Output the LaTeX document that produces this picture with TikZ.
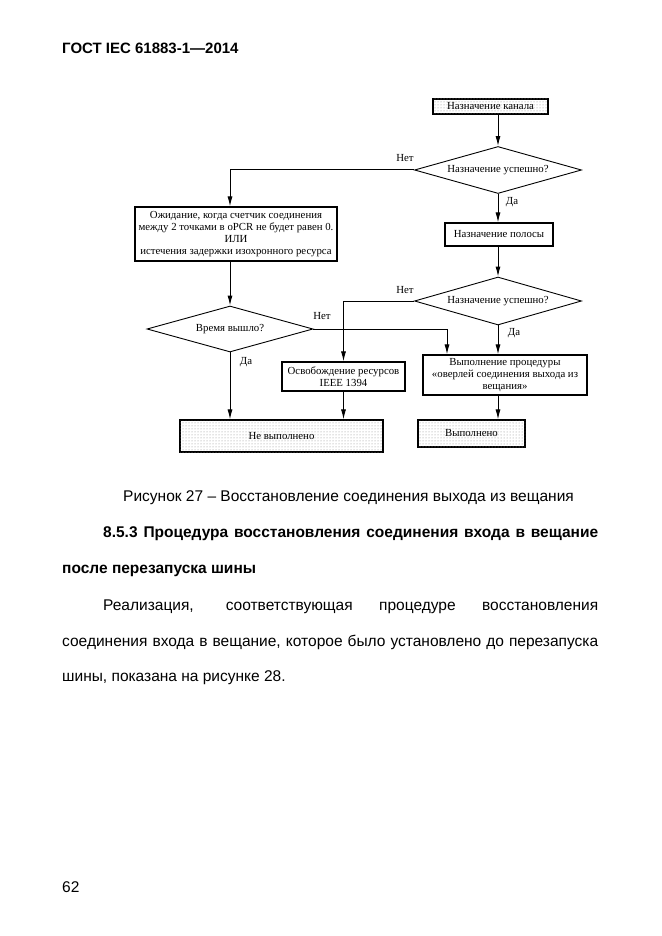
\documentclass[tikz,border=0pt]{standalone}
\usepackage{fontspec}
\setmainfont{Liberation Serif}
\newfontfamily\arialf{Liberation Sans}
\usetikzlibrary{shapes.geometric,patterns,shadows,arrows.meta}
\begin{document}
\begin{tikzpicture}[x=1pt,y=-1pt,
  dfont/.style={font=\fontsize{10.8}{12.2}\selectfont},
  plainbox/.style={draw, line width=1.1pt, rectangle, inner sep=0pt, align=center, dfont},
  termbox/.style={plainbox, fill=white, postaction={pattern=dots, pattern color=black!45},
     drop shadow={shadow xshift=1.4pt, shadow yshift=-1.4pt, opacity=1, fill=black}},
  decision/.style={draw, line width=0.9pt, diamond, aspect=3.5, inner sep=0pt, dfont},
  conn/.style={line width=1pt, -{Latex[length=10pt,width=5pt]}},
  lab/.style={dfont, inner sep=0pt},
  body/.style={font=\arialf\fontsize{15.5}{18}\selectfont, inner sep=0pt, anchor=base west},
  bodyb/.style={font=\arialf\bfseries\fontsize{15.5}{18}\selectfont, inner sep=0pt, anchor=base west}]
\useasboundingbox (0,0) rectangle (661,936);
\fill[white] (0,0) rectangle (661,936);

% header
\node[bodyb, font=\arialf\bfseries\fontsize{15}{18}\selectfont] (hdr) at (62,54) {ГОСТ IEC 61883-1—2014};

% flowchart nodes
\node[termbox, minimum width=115pt, minimum height=15pt] (b1) at (490.5,106.5) {Назначение канала};
\node[decision, minimum width=167pt, minimum height=47pt] (d1) at (498,170) {Назначение успешно?};
\node[plainbox, minimum width=108pt, minimum height=23pt] (b2) at (499,234.5) {Назначение полосы};
\node[decision, minimum width=167pt, minimum height=48pt] (d2) at (498,301) {Назначение успешно?};
\node[plainbox, minimum width=202pt, minimum height=54pt] (bw) at (236,234)
  {Ожидание, когда счетчик соединения\\между 2 точками в oPCR не будет равен 0.\\ИЛИ\\истечения задержки изохронного ресурса};
\node[decision, minimum width=166pt, minimum height=46pt] (d3) at (230,329) {Время вышло?};
\node[plainbox, minimum width=123pt, minimum height=29pt] (bf) at (343.5,376.5) {Освобождение ресурсов\\IEEE 1394};
\node[plainbox, minimum width=164pt, minimum height=40pt] (bp) at (505,375)
  {Выполнение процедуры\\«оверлей соединения выхода из\\вещания»};
\node[termbox, minimum width=203pt, minimum height=32pt] (bn) at (281.5,436) {Не выполнено};
\node[termbox, minimum width=107pt, minimum height=27pt] (by) at (471.5,433.5) {Выполнено};

\coordinate (j3) at (447,329);

% connectors
\draw[conn] (d1.north |- b1.south) -- (d1.north);
\draw[conn] (d1.west) -| (d3.north |- bw.north);
\draw[conn] (d1.south) -- (b2.north -| d1.south);
\draw[conn] (b2.south -| d2.north) -- (d2.north);
\draw[conn] (d2.west) -| (bf.north);
\draw[conn] (d2.south) -- (bp.north -| d2.south);
\draw[conn] (d3.north |- bw.south) -- (d3.north);
\draw[conn] (d3.east) -- (j3) -- (j3 |- bp.north);
\draw[conn] (d3.south) -- (bn.north -| d3.south);
\draw[conn] (bf.south) -- (bn.north -| bf.south);
\draw[conn] (bp.south -| d2.south) -- (by.north -| d2.south);

% labels
\node[lab] (l1) at (405,158) {Нет};
\node[lab] (l2) at (512,202) {Да};
\node[lab] (l3) at (405,290) {Нет};
\node[lab] (l4) at (514,333) {Да};
\node[lab] (l5) at (322,316) {Нет};
\node[lab] (l6) at (246,362) {Да};

% body text
\node[body] (cap) at (123,501) {Рисунок 27 – Восстановление соединения выхода из вещания};
\node[bodyb] (h1) at (103,537) {\makebox[495pt][s]{8.5.3 Процедура восстановления соединения входа в вещание}};
\node[bodyb] (h2) at (62,573) {после перезапуска шины};
\node[body] (p1) at (103,610) {\makebox[495pt][s]{Реализация, соответствующая процедуре восстановления}};
\node[body] (p2) at (62,646) {\makebox[536pt][s]{соединения входа в вещание, которое было установлено до перезапуска}};
\node[body] (p3) at (62,681) {шины, показана на рисунке 28.};
\node[body] (pg) at (62,892) {62};
\end{tikzpicture}
\end{document}
